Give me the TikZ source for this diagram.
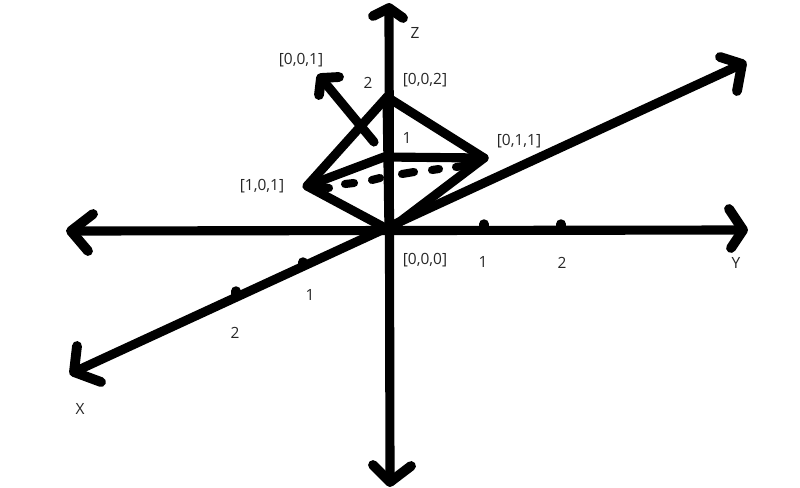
\documentclass[tikz,border=0pt]{standalone}
\usepackage{fontspec}
\setmainfont{Open Sans}
\begin{document}
\begin{tikzpicture}[x=0.02cm,y=-0.02cm,line cap=round,line join=round,
    axisline/.style={line width=5.2pt},
    arrowhead/.style={line width=5.6pt},
    dashpiece/.style={line width=4.6pt},
    tick/.style={line width=5.4pt},
    lbl/.style={font=\fontsize{8.8pt}{10pt}\selectfont,inner sep=0pt,text=black!85}]

    \useasboundingbox (0,0) rectangle (800,487);

    % Points
    \coordinate (origin) at (389,230);
    \coordinate (top) at (387,97);
    \coordinate (front) at (307,186);
    \coordinate (right) at (484,158);
    \coordinate (back) at (384,157);

    % Axes
    \coordinate (zup) at (389,8);
    \coordinate (zdown) at (390,482);
    \coordinate (yleft) at (71,231);
    \coordinate (yright) at (743,230);
    \coordinate (xlow) at (74,372);
    \coordinate (xhigh) at (742,64);
    \draw[axisline] (zup) -- (zdown);
    \draw[axisline] (yleft) -- (yright);
    \draw[axisline] (xlow) -- (xhigh);

    % Arrow heads
    \draw[arrowhead] (373,16) -- (zup) -- (403,18);
    \draw[arrowhead] (373,465) -- (zdown) -- (411,466);
    \draw[arrowhead] (93,214) -- (yleft) -- (88,251);
    \draw[arrowhead] (729,209) -- (yright) -- (731,248);
    \draw[arrowhead] (77,346) -- (xlow) -- (101,382);
    \draw[arrowhead] (720,57) -- (xhigh) -- (737,91);

    % Octahedron edges
    \draw[axisline] (top) -- (front) -- (origin) -- (right) -- cycle;
    \draw[axisline] (front) -- (back) -- (right);
    \draw[axisline] (origin) -- (top);

    % Dashed edge
    \foreach \ax/\ay/\bx/\by in {316/186/329/188,345/184/354/183,372/180/380/178,402/174/414/172,432/170/439/169,456/167/470/165}
      \draw[dashpiece] (\ax,\ay) -- (\bx,\by);

    % Normal vector
    \coordinate (normalstart) at (374,142);
    \coordinate (normalend) at (321,78);
    \draw[axisline] (normalstart) -- (normalend);
    \draw[arrowhead] (319,95) -- (normalend) -- (339,77);

    % Ticks
    \foreach \tx/\ty in {484/224,561/224,303/262,236/291}
      \draw[tick] (\tx,\ty) -- ++(0,3);

    % Labels
    \node[lbl] (zname) at (415,33) {Z};
    \node[lbl] (yname) at (736,263) {Y};
    \node[lbl] (xname) at (80,409) {X};
    \node[lbl] (ntop) at (425,80) {[0,0,2]};
    \node[lbl] (nnormal) at (301,60) {[0,0,1]};
    \node[lbl] (nfront) at (262,186) {[1,0,1]};
    \node[lbl] (nright) at (519,141) {[0,1,1]};
    \node[lbl] (norigin) at (425,260) {[0,0,0]};
    \node[lbl] (ztwo) at (368,83) {2};
    \node[lbl] (zone) at (407,138) {1};
    \node[lbl] (yone) at (483,262) {1};
    \node[lbl] (ytwo) at (562,263) {2};
    \node[lbl] (xone) at (310,295) {1};
    \node[lbl] (xtwo) at (235,333) {2};
\end{tikzpicture}
\end{document}
